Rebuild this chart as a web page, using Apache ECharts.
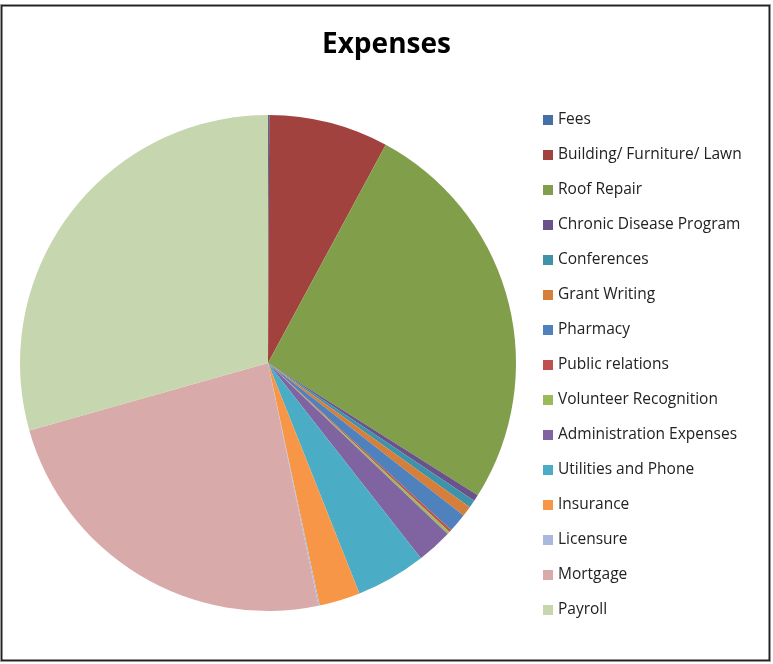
<!DOCTYPE html>
<html>
<head>
<meta charset="utf-8">
<script src="https://cdn.jsdelivr.net/npm/echarts@6/dist/echarts.min.js"></script>
<style>
  html, body { margin: 0; padding: 0; background: #fff; }
  #chart { width: 773px; height: 664px; }
</style>
</head>
<body>
<div id="chart"></div>
<script>
// categories, in the order they are drawn (clockwise from 12 o'clock)
const categories = ['Fees', 'Building/ Furniture/ Lawn', 'Roof Repair', 'Chronic Disease Program',
  'Conferences', 'Grant Writing', 'Pharmacy', 'Public relations', 'Volunteer Recognition',
  'Administration Expenses', 'Utilities and Phone', 'Insurance', 'Licensure', 'Mortgage', 'Payroll']
// share of total
const values = [0.08, 7.8, 26.1, 0.42, 0.5, 0.67, 1.22, 0.17, 0.17, 2.33, 4.56, 2.67, 0.08, 23.9, 29.4]
const colorList = ['#4470a5', '#a2423f', '#819e4b', '#6a528a', '#3e93aa', '#d67f3b',
  '#4f81bd', '#c0504d', '#9bbb59', '#8064a2', '#4bacc6', '#f79646',
  '#a9b9dc', '#d9aaaa', '#c6d6ae']

const chart = echarts.init(document.getElementById('chart'))
chart.setOption({
  backgroundColor: '#fff',
  animation: false,
  color: colorList,
  title: {
    text: 'Expenses',
    left: 322,
    top: 31,
    padding: 0,
    textStyle: {
      fontFamily: 'Open Sans',
      fontWeight: 'bold',
      fontSize: 28,
      color: '#000'
    }
  },
  legend: {
    orient: 'vertical',
    left: 543,
    top: 110,
    padding: 0,
    itemWidth: 10,
    itemHeight: 10,
    itemGap: 15,
    icon: 'rect',
    textStyle: {
      fontFamily: 'Open Sans',
      fontSize: 15.5,
      lineHeight: 20,
      color: '#222'
    },
    data: categories
  },
  graphic: [{
    type: 'rect',
    shape: { x: 1.5, y: 5.5, width: 768, height: 655 },
    style: { fill: 'none', stroke: '#222', lineWidth: 2 }
  }, {
    type: 'rect',
    shape: { x: 0.5, y: 4.5, width: 770, height: 657 },
    style: { fill: 'none', stroke: '#999', lineWidth: 1 }
  }],
  series: [{
    type: 'pie',
    center: [268, 363],
    radius: 248,
    startAngle: 90,
    clockwise: true,
    label: { show: false },
    labelLine: { show: false },
    emphasis: { disabled: true },
    itemStyle: { borderWidth: 0 },
    data: categories.map((name, i) => ({ name, value: values[i] }))
  }]
})
</script>
</body>
</html>
